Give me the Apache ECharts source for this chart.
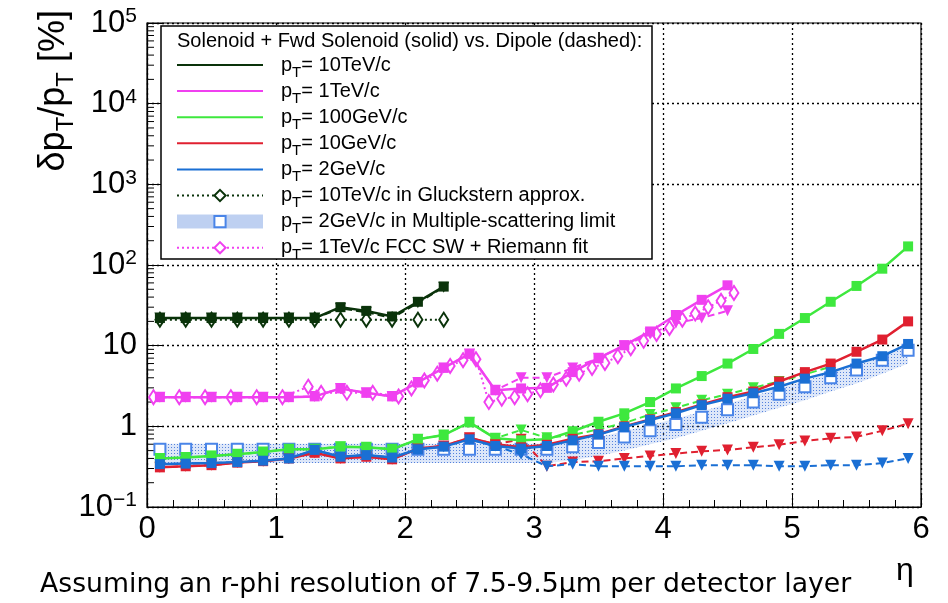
<!DOCTYPE html>
<html><head><meta charset="utf-8">
<script src="https://cdn.jsdelivr.net/npm/echarts@6/dist/echarts.min.js"></script>
<style>html,body{margin:0;padding:0;background:#fff}#c{width:948px;height:603px}</style>
</head><body><div id="c"></div>
<script>
// ---------- data ----------
const eta = [0.1,0.3,0.5,0.7,0.9,1.1,1.3,1.5,1.7,1.9,2.1,2.3,2.5,2.7,2.9,3.1,3.3,3.5,3.7,3.9,4.1,4.3,4.5,4.7,4.9,5.1,5.3,5.5,5.7,5.9];
const pt10TeV    = [22,22,22,22,22,22,22,30,27,23,35,54];
const pt10TeVDip = [22,22,22,22,22,22,22,29,26,22,34,53];
const gluck10TeV = [21,21,21,21,21,21,21,21,21,21,21,21];
const pt1TeV     = [2.3,2.3,2.3,2.3,2.3,2.3,2.35,2.95,2.6,2.35,3.5,5.3,7.9,2.8,2.95,3.0,4.7,7.0,10.1,15,24,37,56];
const pt1TeVDip  = [2.3,2.3,2.3,2.3,2.3,2.3,2.35,2.95,2.6,2.35,3.5,5.3,7.9,2.8,4.0,4.0,5.3,7.0,10,14,19,22,27];
const fccEta     = [0.05,0.25,0.45,0.65,0.85,1.05,1.25,1.35,1.55,1.75,1.95,2.05,2.15,2.25,2.35,2.45,2.55,2.65,2.75,2.85,2.95,3.05,3.15,3.25,3.35,3.45,3.55,3.65,3.75,3.85,3.95,4.05,4.15,4.25,4.35,4.45,4.55];
const fcc1TeV    = [2.3,2.3,2.3,2.3,2.3,2.3,3.1,2.6,2.6,2.6,2.35,2.95,3.7,4.5,5.6,6.6,6.8,2.0,2.2,2.3,2.5,2.8,3.3,3.9,4.5,5.3,6.1,7.4,9.3,11.5,14,16.6,21,25,30,36,45];
const pt100GeV   = [0.40,0.41,0.43,0.45,0.48,0.52,0.52,0.56,0.55,0.52,0.69,0.78,1.12,0.71,0.67,0.69,0.87,1.14,1.45,2.0,2.95,4.2,6.0,9.1,14,22,35,55,90,170];
const pt100GeVDip= [0.40,0.41,0.43,0.45,0.48,0.52,0.52,0.56,0.55,0.52,0.69,0.78,1.12,0.71,0.90,0.72,0.78,0.92,1.1,1.4,1.7,2.1,2.5,3.0,3.6,4.4,5.5];
const pt10GeV    = [0.31,0.32,0.33,0.355,0.37,0.40,0.47,0.40,0.42,0.39,0.53,0.57,0.72,0.60,0.55,0.59,0.70,0.80,1.0,1.22,1.5,1.87,2.3,2.7,3.6,4.7,6.0,8.4,11.9,20];
const pt10GeVDip = [0.31,0.32,0.33,0.355,0.37,0.40,0.47,0.40,0.42,0.39,0.53,0.57,0.72,0.60,0.69,0.32,0.36,0.37,0.40,0.43,0.46,0.49,0.51,0.55,0.59,0.66,0.71,0.74,0.88,1.08];
const pt2GeV     = [0.34,0.345,0.35,0.36,0.375,0.40,0.51,0.42,0.44,0.41,0.52,0.56,0.69,0.57,0.53,0.57,0.67,0.79,0.98,1.2,1.45,1.83,2.2,2.57,3.1,3.9,4.7,6.0,7.4,10.5];
const pt2GeVDip  = [0.34,0.345,0.35,0.36,0.375,0.40,0.51,0.42,0.44,0.41,0.52,0.56,0.69,0.57,0.45,0.32,0.34,0.32,0.32,0.32,0.32,0.33,0.33,0.33,0.32,0.32,0.33,0.33,0.35,0.40];
const ms2GeV     = [0.52,0.52,0.52,0.52,0.52,0.52,0.52,0.52,0.52,0.52,0.52,0.52,0.52,0.52,0.52,0.52,0.56,0.63,0.74,0.88,1.05,1.3,1.6,2.0,2.5,3.1,4.0,5.0,6.6,8.8];
const msLow      = [0.35,0.35,0.35,0.35,0.35,0.35,0.35,0.35,0.35,0.35,0.35,0.35,0.35,0.35,0.35,0.35,0.38,0.43,0.50,0.60,0.71,0.88,1.09,1.36,1.7,2.1,2.7,3.4,4.5,6.0];
const msHigh     = [0.61,0.61,0.61,0.61,0.61,0.61,0.61,0.61,0.61,0.61,0.61,0.61,0.61,0.61,0.61,0.61,0.66,0.74,0.87,1.04,1.24,1.53,1.9,2.36,2.95,3.66,4.7,5.9,7.8,10.4];
const yTickDecades = [-1,0,1,2,3,4,5];
const legendNames = ['pT= 10TeV/c','pT= 1TeV/c','pT= 100GeV/c','pT= 10GeV/c','pT= 2GeV/c',
  'pT= 10TeV/c in Gluckstern approx.','pT= 2GeV/c in Multiple-scattering limit','pT= 1TeV/c FCC SW + Riemann fit'];

// ---------- styling ----------
const FONT = 'Liberation Sans, Arial, Helvetica, sans-serif';
const C = {dg:'#0a330a', mg:'#f040f0', gr:'#3ee83e', rd:'#e02030', bl:'#1a6fd4', ms:'#4a85e8'};
const pair = (xs, ys) => ys.map((v,i)=>[xs[i], v]);

const pat = document.createElement('canvas'); pat.width = 3; pat.height = 3;
(function(){const g=pat.getContext('2d'); g.fillStyle='rgba(120,160,230,0.25)'; g.fillRect(0,0,3,3);
  g.fillStyle='rgba(60,110,215,0.85)'; g.fillRect(0,0,1,1);})();

function solid(name, data, color, z){
  return {name, type:'line', data, symbol:'rect', symbolSize:10, z:z||5,
    lineStyle:{color, width:2.5}, itemStyle:{color}, emphasis:{disabled:true}};
}
function dashed(name, data, color){
  return {name, type:'line', data, symbol:'triangle', symbolRotate:180, symbolSize:11, z:4,
    lineStyle:{color, width:2, type:[7,4]}, itemStyle:{color}, emphasis:{disabled:true}};
}
function dotted(name, data, color){
  return {name, type:'line', data, symbol:'emptyDiamond', symbolSize:[9,14], z:4,
    lineStyle:{color, width:2, type:[2,3]}, itemStyle:{color, borderWidth:1.5}, emphasis:{disabled:true}};
}

const minorVals = [];
yTickDecades.slice(0,-1).forEach(d=>{ for(let m=2;m<=9;m++) minorVals.push([0, m*Math.pow(10,d)]); });

const supMap = {'-1':'−1'};
const chart = echarts.init(document.getElementById('c'), null, {renderer:'canvas'});
chart.setOption({
  animation:false,
  backgroundColor:'#fff',
  textStyle:{fontFamily:FONT},
  grid:{left:147, right:27, top:23, bottom:96, show:true, borderColor:'#000', borderWidth:1.2, backgroundColor:'transparent'},
  title:[
    {text:'Solenoid + Fwd Solenoid (solid) vs. Dipole (dashed):', left:172, top:26, z:8,
     textStyle:{fontFamily:FONT, fontSize:20, fontWeight:'normal', color:'#000'}},
    {text:'Assuming an r-phi resolution of 7.5-9.5µm per detector layer', left:35, top:567, z:8,
     textStyle:{fontFamily:'DejaVu Sans', fontSize:26.7, fontWeight:'normal', color:'#000'}}
  ],
  graphic:[
    {type:'rect', z:3, shape:{x:161, y:26, width:491, height:233}, style:{fill:'#fff', stroke:'#000', lineWidth:1.5}},
    {type:'text', z:8, x:54, y:10, rotation:Math.PI/2,
     style:{text:'{m|δp}{s|T}{m|/p}{s|T}{m| [%]}', align:'right', verticalAlign:'middle',
       rich:{m:{fontFamily:FONT, fontSize:36, lineHeight:48, verticalAlign:'middle', fill:'#000'},
             s:{fontFamily:FONT, fontSize:24, lineHeight:22, verticalAlign:'bottom', fill:'#000'}}}},
    {type:'text', z:8, x:905, y:571, style:{text:'η', fontFamily:FONT, fontSize:32, align:'center', verticalAlign:'middle', fill:'#000'}}
  ],
  legend:{
    orient:'vertical', left:165, top:50, z:9, itemWidth:86, itemHeight:14, itemGap:1.1,
    selectedMode:false, inactiveColor:'#000',
    formatter: n => '{sp|}{p|p}{sub|T}{t|' + n.slice(2) + '}',
    textStyle:{fontFamily:FONT, fontSize:20, color:'#000',
      rich:{sp:{width:13}, p:{fontSize:20, lineHeight:30, verticalAlign:'middle', fontFamily:FONT},
            sub:{fontSize:15, lineHeight:12, verticalAlign:'bottom', fontFamily:FONT},
            t:{fontSize:20, lineHeight:30, verticalAlign:'middle', fontFamily:FONT}}},
    data:[
      {name:legendNames[0], itemStyle:{opacity:0}},
      {name:legendNames[1], itemStyle:{opacity:0}},
      {name:legendNames[2], itemStyle:{opacity:0}},
      {name:legendNames[3], itemStyle:{opacity:0}},
      {name:legendNames[4], itemStyle:{opacity:0}},
      {name:legendNames[5]},
      {name:legendNames[6], lineStyle:{width:14, opacity:1, color:'rgba(110,150,225,0.45)', type:'solid'}},
      {name:legendNames[7]}
    ]
  },
  xAxis:{type:'value', min:0, max:6, interval:1,
    axisLine:{lineStyle:{color:'#000', width:1.2}},
    axisTick:{inside:true, length:14, lineStyle:{color:'#000'}},
    minorTick:{show:true, splitNumber:5, length:7, lineStyle:{color:'#000'}},
    splitLine:{show:true, lineStyle:{color:'#000', type:[2,3], width:1.3}},
    axisLabel:{fontFamily:FONT, fontSize:31, color:'#000', margin:7}},
  yAxis:{type:'log', logBase:10, min:0.1, max:100000, splitNumber:6,
    axisLine:{lineStyle:{color:'#000', width:1.2}},
    axisTick:{inside:true, length:15, lineStyle:{color:'#000'}},
    splitLine:{show:true, lineStyle:{color:'#000', type:[2,3], width:1.3}},
    axisLabel:{fontFamily:FONT, fontSize:31, color:'#000', margin:10,
      formatter: v => { const e = Math.round(Math.log10(v)); if (e===0) return '{m|1}'; if (e===1) return '{m|10}';
        return '{m|10}{s|' + (supMap[e]||e) + '}'; },
      rich:{m:{fontFamily:FONT, fontSize:31, lineHeight:34, verticalAlign:'middle', color:'#000'},
            s:{fontFamily:FONT, fontSize:21, lineHeight:21, verticalAlign:'top', color:'#000'}}}},
  series:[
    {name:'msband', type:'custom', z:1, silent:true, data:[[eta[0], ms2GeV[0]]],
     renderItem:(params, api)=>{
       const pts = [];
       for (let i=0;i<eta.length;i++) pts.push(api.coord([eta[i], msHigh[i]]));
       for (let i=eta.length-1;i>=0;i--) pts.push(api.coord([eta[i], msLow[i]]));
       return {type:'polygon', shape:{points:pts}, style:{fill:{image:pat, repeat:'repeat'}}};
     }},
    {name:'yminor', type:'custom', z:2, silent:true, data:minorVals,
     renderItem:(params, api)=>{
       const p = api.coord([0, api.value(1)]);
       return {type:'line', shape:{x1:p[0], y1:p[1], x2:p[0]+7, y2:p[1]}, style:{stroke:'#000', lineWidth:1}};
     }},
    {name:legendNames[6], type:'line', z:3, data:pair(eta, ms2GeV), symbol:'emptyRect', symbolSize:11,
     lineStyle:{width:0, opacity:0}, itemStyle:{color:C.ms, borderWidth:1.5}, emphasis:{disabled:true}},
    dashed('d10TeV', pair(eta, pt10TeVDip), C.dg),
    dotted(legendNames[5], pair(eta, gluck10TeV), C.dg),
    dashed('d1TeV', pair(eta, pt1TeVDip), C.mg),
    dotted(legendNames[7], pair(fccEta, fcc1TeV), C.mg),
    dashed('d100GeV', pair(eta, pt100GeVDip), C.gr),
    dashed('d10GeV', pair(eta, pt10GeVDip), C.rd),
    dashed('d2GeV', pair(eta, pt2GeVDip), C.bl),
    solid(legendNames[0], pair(eta, pt10TeV), C.dg),
    solid(legendNames[1], pair(eta, pt1TeV), C.mg),
    solid(legendNames[2], pair(eta, pt100GeV), C.gr),
    solid(legendNames[3], pair(eta, pt10GeV), C.rd),
    solid(legendNames[4], pair(eta, pt2GeV), C.bl, 6)
  ]
});
</script></body></html>
